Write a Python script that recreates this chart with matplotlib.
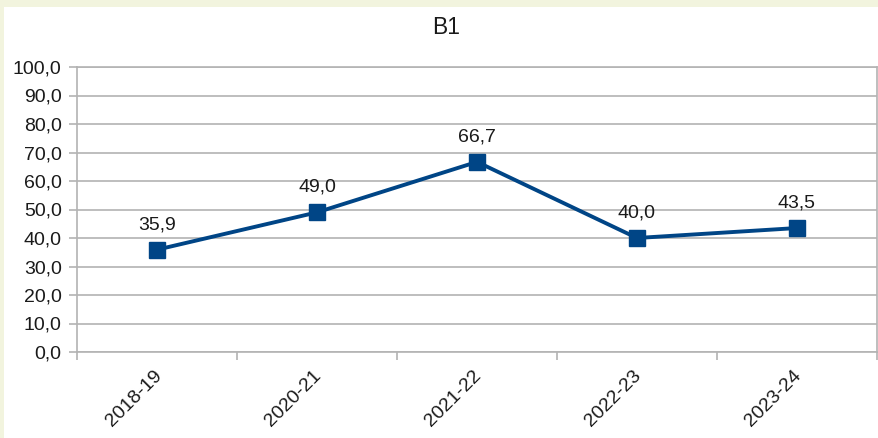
import matplotlib.pyplot as plt
from matplotlib.patches import Rectangle
from matplotlib.transforms import ScaledTranslation

plt.rcParams['font.family'] = ['Liberation Sans', 'DejaVu Sans']

seasons = ["2018-19", "2020-21", "2021-22", "2022-23", "2023-24"]
values = [35.9, 49.0, 66.7, 40.0, 43.5]
y_ticks = [0, 10, 20, 30, 40, 50, 60, 70, 80, 90, 100]

W, H = 879, 438
fig = plt.figure(figsize=(W / 100, H / 100), dpi=100, facecolor="#f2f4de")
# white chart page inside the cream frame
fig.patches.append(Rectangle((4 / W, 0), 1 - 4 / W, 1 - 7 / H,
                             transform=fig.transFigure, facecolor="white",
                             edgecolor="none", zorder=-10))

ax = fig.add_axes([77 / W, 86 / H, 800 / W, 285 / H])
ax.set_facecolor("white")

grid_col = "#b3b3b3"
txt_col = "#1a1a1a"
fs = 14
x = list(range(len(seasons)))
ax.plot(x, values, color="#004586", lw=2.8, marker="s", ms=11.5,
        zorder=3, clip_on=False)

for xi, v in zip(x, values):
    ax.annotate(f"{v:.1f}".replace(".", ","), (xi, v), xytext=(0, 12),
                textcoords="offset points", ha="center", va="bottom",
                fontsize=fs, color=txt_col)

ax.set_xlim(-0.5, len(seasons) - 0.5)
ax.set_ylim(0, 100)
ax.set_yticks(y_ticks)
ax.set_yticklabels([f"{t:.1f}".replace(".", ",") for t in y_ticks])
ax.yaxis.grid(True, color=grid_col, lw=1.2)
ax.set_axisbelow(True)

# ticks sit between categories, labels under category centres
ax.set_xticks([i - 0.5 for i in range(len(seasons) + 1)])
ax.set_xticklabels([])
ax.set_xticks(x, minor=True)
ax.set_xticklabels(seasons, minor=True, rotation=45, ha="right",
                   va="top", rotation_mode="anchor")

ax.tick_params(axis="both", which="major", length=6, width=1.2,
               color=grid_col, labelsize=fs, labelcolor=txt_col)
ax.tick_params(axis="x", which="minor", length=0, pad=11,
               labelsize=fs, labelcolor=txt_col)
ax.tick_params(axis="y", pad=5)
shift = ScaledTranslation(-4 / 100, 0, fig.dpi_scale_trans)
for lbl in ax.get_xticklabels(minor=True):
    lbl.set_transform(lbl.get_transform() + shift)

for s in ax.spines.values():
    s.set_color(grid_col)
    s.set_linewidth(1.2)

fig.text(446 / W, 1 - 27 / H, "B1", ha="center", va="center",
         fontsize=16.5, color=txt_col)

fig.savefig("out.png", dpi=100, facecolor=fig.get_facecolor())
